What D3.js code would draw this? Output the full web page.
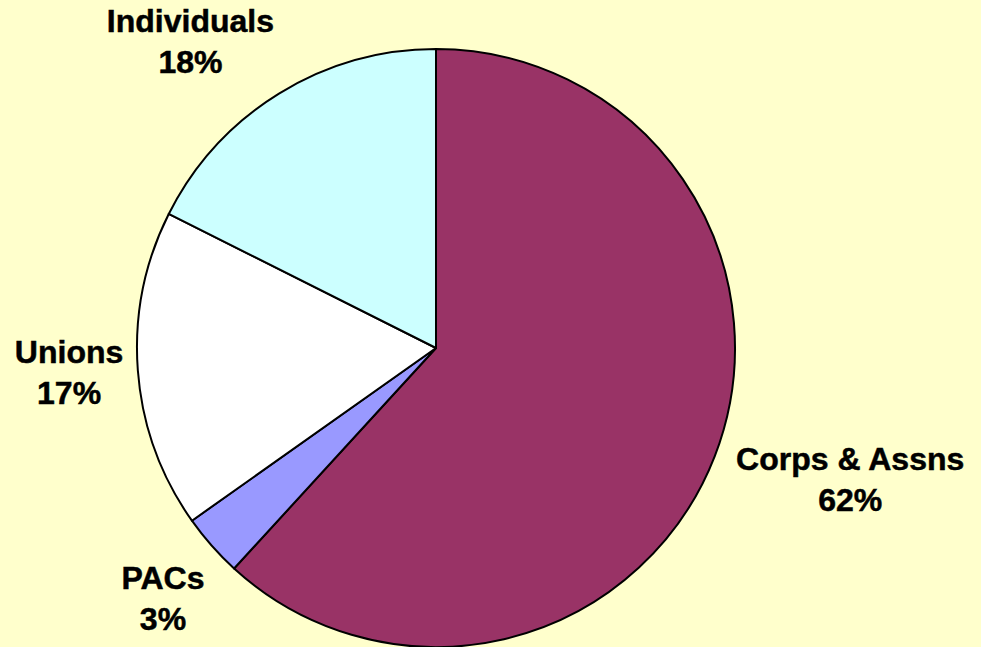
<!DOCTYPE html>
<html>
<head>
<meta charset="utf-8">
<script src="https://cdn.jsdelivr.net/npm/d3@7"></script>
<style>
  html, body { margin: 0; padding: 0; background: #FFFFCC; }
  svg { display: block; }
  .slice { stroke: #000; stroke-width: 2; stroke-linejoin: round; }
  .pie-label { font-family: "Liberation Sans", Arial, sans-serif; font-weight: bold; font-size: 32px; fill: #000; stroke: #000; stroke-width: 0.5; }
</style>
</head>
<body>
<svg class="pie-chart"></svg>
<script>
// share of contributions (percent)
const categories = ['Corps & Assns', 'PACs', 'Unions', 'Individuals']
const shares = [61.8, 3.4, 17.2, 17.6]
const colours = ['#993366', '#9999FF', '#FFFFFF', '#CCFFFF']

// label tweaks, Excel puts them a bit off the mid angle
const labelNudge = [[60, -6], [12, 0], [12, -4], [-46, 17]]

const width = 981
const height = 647
const cx = 436
const cy = 348
const radius = 299

const svg = d3.select('.pie-chart')
    .attr('width', width)
    .attr('height', height)

const data = categories.map((name, i) => ({
    name: name,
    value: shares[i],
    colour: colours[i],
    nudge: labelNudge[i]
}))

const pie = d3.pie()
    .sort(null)
    .value(d => d.value)

const arc = d3.arc()
    .innerRadius(0)
    .outerRadius(radius)

// only used to find where the labels go
const labelArc = d3.arc()
    .innerRadius(380)
    .outerRadius(380)

const g = svg.append('g')
    .attr('transform', `translate(${cx},${cy})`)

const arcs = pie(data)

g.selectAll('path.slice')
    .data(arcs)
    .enter()
    .append('path')
    .attr('class', 'slice')
    .attr('d', arc)
    .attr('fill', d => d.data.colour)

const labels = g.selectAll('text.pie-label')
    .data(arcs)
    .enter()
    .append('text')
    .attr('class', 'pie-label')
    .attr('text-anchor', 'middle')
    .attr('transform', d => {
        const c = labelArc.centroid(d)
        return `translate(${c[0] + d.data.nudge[0]},${c[1] + d.data.nudge[1]})`
    })

labels.append('tspan')
    .attr('x', 0)
    .attr('y', -10)
    .text(d => d.data.name)

labels.append('tspan')
    .attr('x', 0)
    .attr('y', 31)
    .text(d => Math.round(d.data.value) + '%')
</script>
</body>
</html>
